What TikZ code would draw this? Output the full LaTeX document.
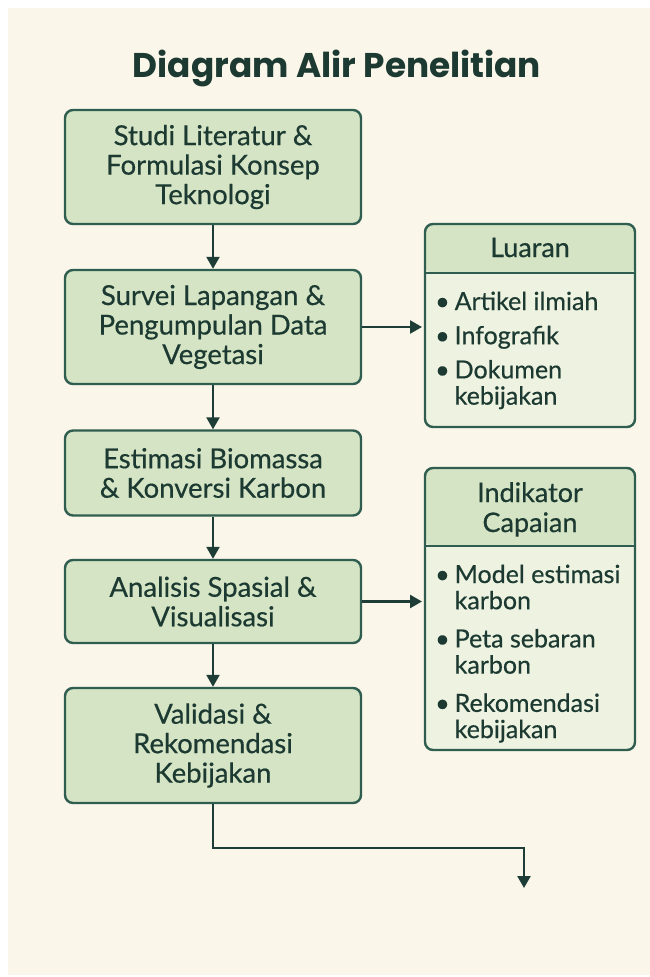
\documentclass[tikz,border=0pt]{standalone}
\usepackage{fontspec}
\setmainfont{Lato}
\newfontfamily\medfont{Lato}[FakeBold=0.5]
\newfontfamily\headfont{Poppins}
\usetikzlibrary{arrows.meta,positioning,calc}
\definecolor{ink}{HTML}{1C3A32}
\definecolor{edge}{HTML}{2F5D50}
\definecolor{arrc}{HTML}{1E3D37}
\definecolor{leaf}{HTML}{D5E4C4}
\definecolor{leafl}{HTML}{EEF2E0}
\definecolor{cream}{HTML}{FAF6EA}
\tikzset{
  stepbox/.style={draw=edge,fill=leaf,line width=2.4pt,rounded corners=8pt,minimum width=296pt,
    align=center,text=ink,font=\medfont\fontsize{27.5}{29.5}\selectfont},
  outbox/.style={draw=edge,fill=leafl,line width=2.4pt,rounded corners=8pt,minimum width=210pt,outer sep=0pt,
    path picture={\fill[leaf] (path picture bounding box.north west) rectangle ([yshift=-#1]path picture bounding box.north east);
      \draw[edge,line width=2.4pt] ([yshift=-#1]path picture bounding box.north west) -- ([yshift=-#1]path picture bounding box.north east);}},
  arr/.style={arrc,line width=2.4pt,-{Triangle[length=12pt,width=13pt]}},
  headtxt/.style={anchor=base,align=center,text=ink,font=\medfont\fontsize{27}{30}\selectfont},
  listtxt/.style={anchor=base west,inner sep=0pt,text=ink,font=\medfont\fontsize{25}{26}\selectfont}
}
\begin{document}
\begin{tikzpicture}[x=1pt,y=-1pt]
    \fill[white] (0,0) rectangle (650,977);
    \fill[cream] (8,8) rectangle (650,975);
    \node[text=ink,font=\headfont\fontsize{34.3}{40}\selectfont\bfseries,anchor=base] (title) at (337,77) {Diagram Alir Penelitian};
    \foreach \n/\y/\h/\t in {1/167/114/{Studi Literatur \&\\Formulasi Konsep\\Teknologi},
        2/327/114/{Survei Lapangan \&\\Pengumpulan Data\\Vegetasi},
        3/473/85/{Estimasi Biomassa\\\& Konversi Karbon},
        4/601.5/83/{Analisis Spasial \&\\Visualisasi},
        5/745.5/115/{Validasi \&\\Rekomendasi\\Kebijakan}}{
      \node[stepbox,minimum height=\h pt] (s\n) at (213,\y) {\t};}
    \foreach \a/\b in {1/2,2/3,3/4,4/5}
      \draw[arr] (s\a) -- (s\b);
    \node[outbox=49pt,minimum height=203pt] (lua) at (530,325.5) {};
    \node[outbox=78pt,minimum height=282pt] (ind) at (530,609) {};
    \node[headtxt] (luah) at (530,257) {Luaran};
    \node[headtxt] (indh) at (530,532) {Indikator\\Capaian};
    \node[listtxt] (luat) at (435,310) {\begin{tabular}[t]{@{}l@{\hspace{5pt}}l@{}}
      \textbullet & Artikel ilmiah\\[8pt]
      \textbullet & Infografik\\[8pt]
      \textbullet & Dokumen\\ & kebijakan\end{tabular}};
    \node[listtxt] (indt) at (435,583) {\begin{tabular}[t]{@{}l@{\hspace{5pt}}l@{}}
      \textbullet & Model estimasi\\ & karbon\\[12pt]
      \textbullet & Peta sebaran\\ & karbon\\[12pt]
      \textbullet & Rekomendasi\\ & kebijakan\end{tabular}};
    \draw[arr,shorten >=3pt] (s2) -- (lua.west |- s2);
    \draw[arr,shorten >=3pt] (s4) -- (ind.west |- s4);
    \coordinate (turn) at (524,848);
    \coordinate (fin) at (524,888);
    \draw[arr] (s5) |- (turn) -- (fin);
  \end{tikzpicture}
\end{document}
